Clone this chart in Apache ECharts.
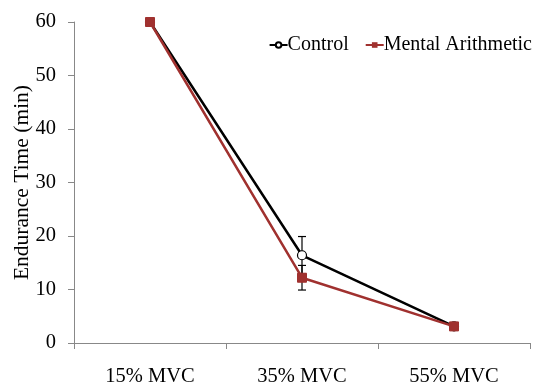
<!DOCTYPE html>
<html><head><meta charset="utf-8">
<script src="https://cdn.jsdelivr.net/npm/echarts@6/dist/echarts.min.js"></script>
<style>html,body{margin:0;padding:0;background:#fff}#c{width:539px;height:385px}</style>
</head><body><div id="c"></div>
<script>
const categories = ['15% MVC', '35% MVC', '55% MVC'];
const controlValues = [60, 16.4, 3.1];
const controlErr = [0, 3.5, 0];
const mentalValues = [60, 12.2, 3.1];
const mentalErr = [0, 2.3, 0];
const yTicks = [0, 10, 20, 30, 40, 50, 60];

const FONT = 'Liberation Serif';
const RED = '#A0312F';
const chart = echarts.init(document.getElementById('c'));

function errSeries(vals, errs, color) {
  return {
    type: 'custom',
    silent: true,
    z: 1,
    data: vals.map((v, i) => [i, v - errs[i], v + errs[i]]),
    renderItem: function (params, api) {
      const lo = api.value(1), hi = api.value(2);
      if (hi - lo <= 0) return null;
      const pLo = api.coord([api.value(0), lo]);
      const pHi = api.coord([api.value(0), hi]);
      const w = 4;
      const style = { stroke: color, lineWidth: 1.2 };
      return {
        type: 'group',
        children: [
          { type: 'line', shape: { x1: pLo[0], y1: pLo[1], x2: pHi[0], y2: pHi[1] }, style },
          { type: 'line', shape: { x1: pLo[0] - w, y1: pLo[1], x2: pLo[0] + w, y2: pLo[1] }, style },
          { type: 'line', shape: { x1: pHi[0] - w, y1: pHi[1], x2: pHi[0] + w, y2: pHi[1] }, style }
        ]
      };
    }
  };
}

chart.setOption({
  animation: false,
  textStyle: { fontFamily: FONT },
  grid: { left: 74, right: 9, top: 22, bottom: 42, outerBoundsMode: 'none', containLabel: false },
  legend: {
    top: 30, right: 2,
    itemWidth: 18, itemHeight: 7, itemGap: 16,
    textStyle: { fontFamily: FONT, fontSize: 20, color: '#000', padding: [0, 0, 0, -5] },
    data: ['Control', 'Mental Arithmetic']
  },
  xAxis: {
    type: 'category',
    data: categories,
    boundaryGap: true,
    axisLine: { lineStyle: { color: '#888', width: 1 } },
    axisTick: { show: true, alignWithLabel: false, length: 6, lineStyle: { color: '#888' } },
    axisLabel: { fontFamily: FONT, fontSize: 20.5, color: '#000', margin: 23 },
    splitLine: { show: false }
  },
  yAxis: {
    type: 'value',
    min: yTicks[0], max: yTicks[yTicks.length - 1], interval: 10,
    name: 'Endurance Time (min)',
    nameLocation: 'middle',
    nameGap: 41,
    nameMoveOverlap: false,
    nameTextStyle: { fontFamily: FONT, fontSize: 21.5, color: '#000' },
    axisLine: { show: true, lineStyle: { color: '#888', width: 1 } },
    axisTick: { show: true, length: 6, lineStyle: { color: '#888' } },
    axisLabel: { fontFamily: FONT, fontSize: 20.5, color: '#000', margin: 18 },
    splitLine: { show: false }
  },
  series: [
    errSeries(controlValues, controlErr, '#000'),
    errSeries(mentalValues, mentalErr, '#000'),
    {
      name: 'Control',
      type: 'line',
      data: controlValues,
      z: 2,
      symbol: 'circle', symbolSize: 9,
      lineStyle: { color: '#000', width: 2.5 },
      itemStyle: { color: '#fff', borderColor: '#000', borderWidth: 1.2 }
    },
    {
      name: 'Mental Arithmetic',
      type: 'line',
      data: mentalValues,
      z: 3,
      symbol: 'rect', symbolSize: 9,
      lineStyle: { color: RED, width: 2.5 },
      itemStyle: { color: RED, borderColor: RED }
    }
  ]
});
</script></body></html>
